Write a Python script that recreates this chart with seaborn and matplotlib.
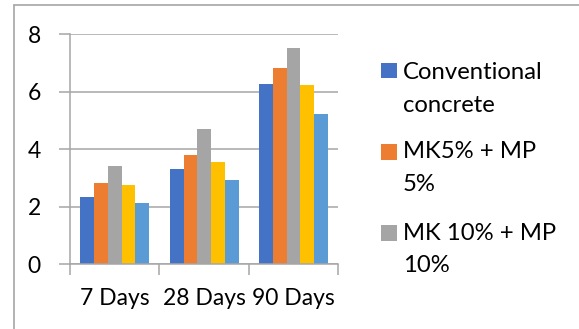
import matplotlib
matplotlib.use("Agg")
import matplotlib.pyplot as plt
from matplotlib.patches import Rectangle
from matplotlib.lines import Line2D
import pandas as pd
import seaborn as sns

# Compressive strength by curing age for each mix
ages = ["7 Days", "28 Days", "90 Days"]
mixes = ["Conventional\nconcrete", "MK5% + MP\n5%", "MK 10% + MP\n10%", "Mix 4", "Mix 5"]
conventional = [2.34, 3.33, 6.27]
mk5_mp5 = [2.83, 3.80, 6.83]
mk10_mp10 = [3.41, 4.71, 7.54]
mix4 = [2.75, 3.57, 6.24]
mix5 = [2.13, 2.92, 5.23]
colors = ["#4472C4", "#ED7D31", "#A5A5A5", "#FFC000", "#5B9BD5"]
yticks = [0, 2, 4, 6, 8]
n_legend = 3

series = [conventional, mk5_mp5, mk10_mp10, mix4, mix5]
rows = []
for mix, vals in zip(mixes, series):
    for age, v in zip(ages, vals):
        rows.append({"age": age, "mix": mix, "value": v})
df = pd.DataFrame(rows)

sns.set_style("white")
plt.rcParams["font.family"] = ["Lato", "DejaVu Sans"]

W, H = 579, 329
fig = plt.figure(figsize=(W / 100, H / 100), dpi=100)
fig.patch.set_facecolor("white")


def fx(x):
    return x / W


def fy(y):
    return 1 - y / H


ax = fig.add_axes([fx(70), fy(264.3), (338.3 - 70) / W, (264.3 - 34.3) / H])

sns.barplot(data=df, x="age", y="value", hue="mix", hue_order=mixes,
            order=ages, palette=colors, saturation=1, width=5 / 6.5,
            errorbar=None, linewidth=0, legend=False, ax=ax)

axis_grey = "#a6a6a6"
ax.set_xlim(-0.5, 2.5)
ax.set_ylim(0, 8)
ax.set_yticks(yticks)
ax.set_xlabel("")
ax.set_ylabel("")
ax.set_axisbelow(True)
ax.yaxis.grid(True, color=axis_grey, linewidth=1.1)
ax.xaxis.grid(False)
for side in ("top", "right"):
    ax.spines[side].set_visible(False)
for side in ("left", "bottom"):
    ax.spines[side].set_color(axis_grey)
    ax.spines[side].set_linewidth(1.1)

fs = 16.5
ax.tick_params(axis="y", direction="out", length=8, width=1.1, color=axis_grey,
               pad=13, labelsize=fs, labelcolor="black", left=True)
ax.set_xticks(range(len(ages)))
ax.set_xticklabels(ages)
ax.tick_params(axis="x", which="major", length=0, pad=17, labelsize=fs,
               labelcolor="black")
ax.set_xticks([-0.5, 0.5, 1.5, 2.5], minor=True)
ax.tick_params(axis="x", which="minor", direction="out", length=8, width=1.1,
               color=axis_grey, bottom=True)

# Legend: square key beside a two-line label
key_tops = [62.7, 144.0, 225.0]
baselines = [79.3, 158.3, 240.0]
line_gap = 32.5
for i in range(n_legend):
    fig.add_artist(Rectangle((fx(381), fy(key_tops[i] + 15.5)), 15.5 / W, 15.5 / H,
                             transform=fig.transFigure, facecolor=colors[i],
                             edgecolor="none"))
    for j, line in enumerate(mixes[i].split("\n")):
        fig.text(fx(403), fy(baselines[i] + j * line_gap), line, fontsize=17.2,
                 va="baseline", ha="left", color="black")

# Chart frame
fig.add_artist(Line2D([fx(14), 1], [fy(5), fy(5)], transform=fig.transFigure,
                      color=axis_grey, linewidth=1.2))
fig.add_artist(Line2D([fx(14), fx(14)], [fy(5), 0], transform=fig.transFigure,
                      color=axis_grey, linewidth=1.2))

fig.savefig("out.png", dpi=100, facecolor="white")
